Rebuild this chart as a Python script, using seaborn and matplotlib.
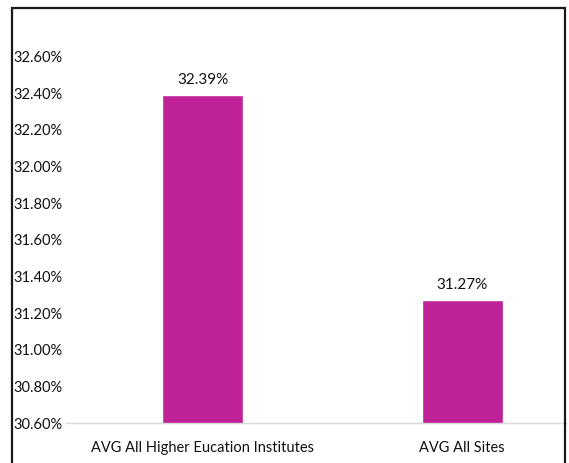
import matplotlib
matplotlib.use("Agg")
import matplotlib.pyplot as plt
import seaborn as sns
import pandas as pd
from matplotlib.patches import Rectangle
from matplotlib.ticker import FuncFormatter

categories = ["AVG All Higher Eucation Institutes", "AVG All Sites"]
values = [32.39, 31.27]
value_labels = ["32.39%", "31.27%"]
yticks = [30.6, 30.8, 31.0, 31.2, 31.4, 31.6, 31.8, 32.0, 32.2, 32.4, 32.6]

sns.set_theme(style="white")
plt.rcParams['font.family'] = ['Lato', 'DejaVu Sans']

W, H = 569, 463
fig = plt.figure(figsize=(W / 100, H / 100), dpi=100)
ax = fig.add_axes([66 / W, 1 - 423 / H, 500 / W, (423 - 20) / H])

df = pd.DataFrame({"cat": categories, "val": values})
sns.barplot(data=df, x="cat", y="val", color="#BF2196", saturation=1,
            width=0.312, ax=ax)

ax.set_ylim(30.6, 32.8)
ax.set_xlim(-0.526, 1.40)
ax.set_yticks(yticks)
ax.yaxis.set_major_formatter(FuncFormatter(lambda v, p: f"{v:.2f}%"))
ax.set_xlabel("")
ax.set_ylabel("")

for s in ["top", "right", "left"]:
    ax.spines[s].set_visible(False)
ax.spines["bottom"].set_color("#d9d9d9")
ax.spines["bottom"].set_linewidth(1)

ax.tick_params(axis="y", length=0, pad=38, labelsize=10.5, labelcolor="#111111")
for lab in ax.get_yticklabels():
    lab.set_ha("left")
ax.tick_params(axis="x", length=0, pad=13, labelsize=10.5, labelcolor="#111111")

for i, (v, t) in enumerate(zip(values, value_labels)):
    ax.annotate(t, (i, v), xytext=(0, 6), textcoords="offset points",
                ha="center", va="bottom", fontsize=11, color="#111111")

rect = Rectangle((12 / W, -0.05), (565 - 12) / W, 1.05 - 8 / H,
                 transform=fig.transFigure, fill=False, edgecolor="#1a1a1a",
                 linewidth=1.6, clip_on=False)
fig.patches.append(rect)

fig.savefig("out.png", dpi=100)
